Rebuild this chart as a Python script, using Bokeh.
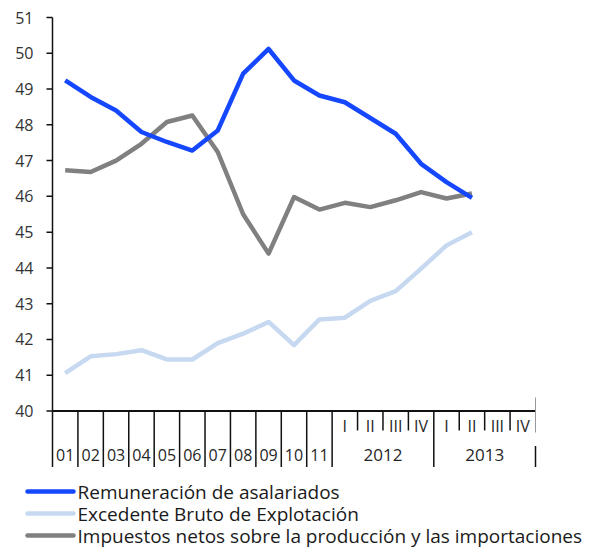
from bokeh.plotting import figure
from bokeh.models import Range1d
from bokeh.embed import file_html
from bokeh.resources import INLINE
from bokeh.core.properties import value

# ---------------- data ----------------
months = ["01", "02", "03", "04", "05", "06", "07", "08", "09", "10", "11"]
quarters = ["I", "II", "III", "IV", "I", "II", "III", "IV"]
years = ["2012", "2013"]

remuneracion = [49.24, 48.78, 48.40, 47.80, 47.52, 47.28, 47.84, 49.43, 50.12, 49.24,
                48.82, 48.63, 48.19, 47.75, 46.91, 46.40, 45.96]
excedente = [41.06, 41.53, 41.59, 41.70, 41.44, 41.44, 41.90, 42.16, 42.49, 41.84,
             42.56, 42.61, 43.08, 43.35, 43.98, 44.63, 45.00]
impuestos = [46.73, 46.68, 47.00, 47.47, 48.08, 48.26, 47.24, 45.50, 44.40, 45.98,
             45.63, 45.82, 45.70, 45.89, 46.12, 45.94, 46.08]

y_ticks = list(range(40, 52))

series_names = ["Remuneración de asalariados",
                "Excedente Bruto de Explotación",
                "Impuestos netos sobre la producción y las importaciones"]
series_colors = ["#1547FF", "#C6D9F1", "#808080"]

# ---------------- layout ----------------
FONT = value("Open Sans")
TEXT = "#262626"
AXIS = "#111111"
n_m = len(months)
n_total = n_m + len(quarters)

W, H = 588, 549
PX_X = 483.0 / n_total            # pixels per category
PX_Y = 393.5 / (y_ticks[-1] - y_ticks[0])   # pixels per unit
x_lo = -52.0 / PX_X
x_hi = n_total + (W - 535.0) / PX_X
y_hi = y_ticks[-1] + 17.0 / PX_Y
y_lo = y_ticks[0] - (H - 410.5) / PX_Y

p = figure(width=W, height=H, output_backend="svg", toolbar_location=None,
           x_axis_location=None, y_axis_location=None,
           x_range=Range1d(x_lo, x_hi), y_range=Range1d(y_lo, y_hi),
           min_border_left=0, min_border_right=0,
           min_border_top=0, min_border_bottom=0)
p.outline_line_color = None
p.xgrid.visible = False
p.ygrid.visible = False
p.background_fill_color = "white"
p.border_fill_color = "white"

base = y_ticks[0]

# ---- value axis (left) ----
tick_len = 6.0 / PX_X
p.segment(x0=[0], y0=[y_ticks[0]], x1=[0], y1=[y_ticks[-1]], line_color=AXIS, line_width=1.5)
p.segment(x0=[-tick_len] * len(y_ticks), y0=y_ticks, x1=[0] * len(y_ticks), y1=y_ticks,
          line_color=AXIS, line_width=1.5)
p.text(x=[-19.0 / PX_X] * len(y_ticks), y=y_ticks, text=[str(t) for t in y_ticks],
       text_align="right", text_baseline="middle", text_font=FONT,
       text_font_size="16px", text_color="#333333")

# ---- category axis (bottom) ----
deep = base - 56.0 / PX_Y
quarter_low = base - 19.5 / PX_Y
q_label_y = base - 15.0 / PX_Y
m_label_y = base - 43.5 / PX_Y

p.segment(x0=[0], y0=[base], x1=[n_total], y1=[base], line_color=AXIS, line_width=2)

long_b = list(range(0, n_m + 1)) + [n_m + 4]
p.segment(x0=long_b, y0=[base] * len(long_b), x1=long_b, y1=[deep] * len(long_b),
          line_color=AXIS, line_width=1.5)
q_b = [n_m + j for j in range(1, len(quarters)) if j != 4]
p.segment(x0=q_b, y0=[base] * len(q_b), x1=q_b, y1=[quarter_low] * len(q_b),
          line_color=AXIS, line_width=1.5)
# closing boundary
p.segment(x0=[n_total], y0=[base + 13.5 / PX_Y], x1=[n_total], y1=[base - 21.5 / PX_Y],
          line_color="#999999", line_width=1)
p.segment(x0=[n_total], y0=[base - 35.0 / PX_Y], x1=[n_total], y1=[deep],
          line_color=AXIS, line_width=1.5)

p.text(x=[i + 0.5 for i in range(n_m)], y=[m_label_y] * n_m, text=months,
       text_align="center", text_baseline="middle", text_font=FONT,
       text_font_size="16px", text_color=TEXT)
p.text(x=[n_m + j + 0.5 for j in range(len(quarters))], y=[q_label_y] * len(quarters),
       text=quarters, text_align="center", text_baseline="middle", text_font=FONT,
       text_font_size="16px", text_color=TEXT)
p.text(x=[n_m + 2 + 4 * k for k in range(len(years))], y=[m_label_y] * len(years),
       text=years, text_align="center", text_baseline="middle", text_font=FONT,
       text_font_size="17px", text_color=TEXT)

# ---- series ----
xs = [i + 0.5 for i in range(len(remuneracion))]
p.line(xs, excedente, line_color=series_colors[1], line_width=4.5, line_join="round")
p.line(xs, impuestos, line_color=series_colors[2], line_width=4.5, line_join="round")
p.line(xs, remuneracion, line_color=series_colors[0], line_width=4.5, line_join="round")

# ---- legend (below the axis, spilling left of the value axis) ----
leg_x0 = (27.0 - 52.0) / PX_X
leg_x1 = (73.0 - 52.0) / PX_X
leg_tx = (77.0 - 52.0) / PX_X
leg_rows = [base - (491.0 + 22.0 * i - 410.5) / PX_Y for i in range(len(series_names))]
p.segment(x0=[leg_x0] * 3, y0=leg_rows, x1=[leg_x1] * 3, y1=leg_rows,
          line_color=series_colors, line_width=4.5, line_cap="round")
p.text(x=[leg_tx] * 3, y=leg_rows, text=series_names,
       text_align="left", text_baseline="middle", text_font=FONT,
       text_font_size="19px", text_color="#1a1a1a")

open("out.html", "w").write(file_html(p, INLINE))
